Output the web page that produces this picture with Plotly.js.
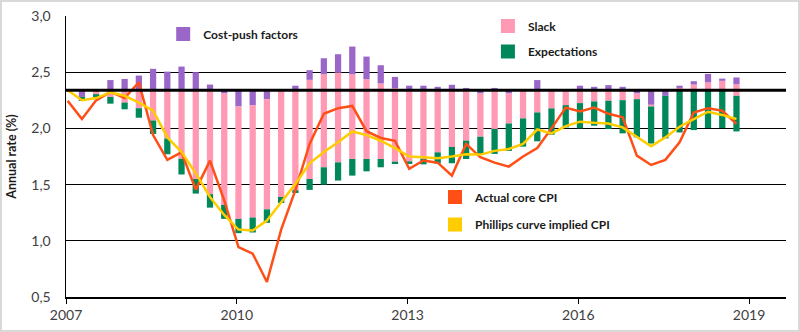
<!DOCTYPE html>
<html>
<head>
<meta charset="utf-8">
<script src="https://cdn.plot.ly/plotly-3.0.1.min.js"></script>
<style>
  html, body { margin: 0; padding: 0; background: #ffffff; }
  #wrap { position: relative; width: 800px; height: 332px; }
  #chart { width: 800px; height: 332px; }
  #frame { position: absolute; left: 0; top: 0; width: 800px; height: 332px; box-sizing: border-box;
           border: 2px solid #d9d9d9; pointer-events: none; }
</style>
</head>
<body>
<div id="wrap"><div id="chart"></div><div id="frame"></div></div>
<script>
// ---- Data (quarterly, 2007Q1 - 2018Q4) ----
const quarters = [
  '2007Q1','2007Q2','2007Q3','2007Q4','2008Q1','2008Q2','2008Q3','2008Q4',
  '2009Q1','2009Q2','2009Q3','2009Q4','2010Q1','2010Q2','2010Q3','2010Q4',
  '2011Q1','2011Q2','2011Q3','2011Q4','2012Q1','2012Q2','2012Q3','2012Q4',
  '2013Q1','2013Q2','2013Q3','2013Q4','2014Q1','2014Q2','2014Q3','2014Q4',
  '2015Q1','2015Q2','2015Q3','2015Q4','2016Q1','2016Q2','2016Q3','2016Q4',
  '2017Q1','2017Q2','2017Q3','2017Q4','2018Q1','2018Q2','2018Q3','2018Q4'
];

// Steady-state (target-consistent) inflation the contributions are measured from
const baseline = 2.34;

// Contributions (percentage points) relative to the baseline
const costPush = [
  0, -0.06, 0, 0.09, 0.10, 0.13, 0.19, 0.165,
  0.21, 0.16, 0.05, -0.03, -0.145, -0.133, -0.08, 0,
  0.04, 0.086, 0.142, 0.163, 0.246, 0.201, 0.162, 0.10,
  0.04, 0.04, 0.03, 0.048, 0.02, -0.03, 0.02, -0.03,
  0, 0.09, 0.01, 0, 0.04, 0.03, 0.045, 0.03,
  -0.03, -0.13, -0.05, 0.02, 0.03, 0.075, 0.02, 0.06
];
// Slack: part stacked above the baseline and part stacked below it
const slackAbove = [
  0, 0, 0, 0, 0, 0, 0, 0,
  0, 0, 0, 0, 0, 0, 0, 0,
  0, 0.092, 0.142, 0.157, 0.142, 0.098, 0.06, 0.018,
  0, 0, 0, 0, 0, 0, 0, 0,
  0, 0, 0, 0, 0, 0, 0, 0,
  0, 0, 0, 0.02, 0.05, 0.07, 0.083, 0.053
];
const slackBelow = [
  0, 0, -0.035, -0.06, -0.11, -0.16, -0.27, -0.43,
  -0.61, -0.79, -0.925, -0.99, -1.0, -1.0, -0.98, -0.95,
  -0.89, -0.79, -0.686, -0.642, -0.612, -0.612, -0.612, -0.636,
  -0.633, -0.61, -0.553, -0.505, -0.449, -0.384, -0.345, -0.266,
  -0.251, -0.198, -0.162, -0.133, -0.115, -0.10, -0.094, -0.089,
  -0.05, -0.015, 0, 0, 0, 0, 0, -0.05
];
const expectations = [
  0, -0.035, -0.03, -0.06, -0.06, -0.085, -0.12, -0.14,
  -0.14, -0.13, -0.12, -0.125, -0.127, -0.133, -0.12, -0.054,
  -0.025, -0.097, -0.154, -0.162, -0.148, -0.11, -0.074, -0.021,
  -0.023, -0.05, -0.10, -0.145, -0.163, -0.159, -0.222, -0.244,
  -0.251, -0.257, -0.234, -0.198, -0.225, -0.216, -0.252, -0.295,
  -0.34, -0.33, -0.379, -0.376, -0.355, -0.337, -0.337, -0.317
];

// Lines (annual rate, %)
const actualCoreCPI = [
  2.245, 2.083, 2.25, 2.325, 2.27, 2.41, 1.94, 1.72,
  1.787, 1.455, 1.713, 1.36, 0.944, 0.885, 0.634, 1.10,
  1.45, 1.862, 2.13, 2.18, 2.20, 1.975, 1.915, 1.89,
  1.64, 1.715, 1.695, 1.58, 1.862, 1.743, 1.695, 1.66,
  1.75, 1.825, 2.00, 2.185, 2.15, 2.186, 2.13, 2.098,
  1.758, 1.675, 1.72, 1.876, 2.142, 2.18, 2.157, 2.04
];
const phillipsImplied = [
  2.34, 2.25, 2.27, 2.32, 2.29, 2.23, 2.157, 1.92,
  1.79, 1.60, 1.39, 1.23, 1.10, 1.092, 1.18, 1.343,
  1.506, 1.69, 1.79, 1.876, 1.973, 1.94, 1.89, 1.825,
  1.75, 1.743, 1.734, 1.75, 1.77, 1.767, 1.80, 1.817,
  1.862, 1.99, 1.956, 2.02, 2.06, 2.05, 2.044, 2.009,
  1.926, 1.84, 1.92, 2.015, 2.083, 2.148, 2.12, 2.083
];

const yearTicks = [2007, 2010, 2013, 2016, 2019];

// ---- Styling ----
const COLORS = {
  slack: '#FF99B4', expectations: '#00875A', costPush: '#9A66C8',
  actual: '#FF4F17', phillips: '#FFCC00'
};
const FONT = 'Lato, "Open Sans", sans-serif';
const BAR_WIDTH = 0.11;
const CENTER = 0.03;

// quarter label -> decimal year position
const xs = quarters.map(q => {
  const y = parseInt(q.slice(0, 4), 10);
  const n = parseInt(q.slice(5), 10);
  return y + (n - 1) / 4 + CENTER;
});

// Stack contributions around the baseline: positives upward, negatives downward
const order = [
  { vals: slackAbove, color: COLORS.slack },
  { vals: costPush, color: COLORS.costPush },
  { vals: slackBelow, color: COLORS.slack },
  { vals: expectations, color: COLORS.expectations }
];
const upper = quarters.map(() => baseline);
const lower = quarters.map(() => baseline);
const barTraces = order.map(s => {
  const bases = s.vals.map((v, i) => {
    if (v >= 0) { const b = upper[i]; upper[i] += v; return b; }
    const b = lower[i]; lower[i] += v; return b;
  });
  return {
    type: 'bar', x: xs, y: s.vals, base: bases, width: BAR_WIDTH,
    marker: { color: s.color, line: { width: 0 } },
    showlegend: false, hoverinfo: 'skip'
  };
});

const lineTraces = [
  { type: 'scatter', mode: 'lines', x: xs, y: actualCoreCPI, name: 'Actual core CPI',
    line: { color: COLORS.actual, width: 2.5 }, showlegend: false },
  { type: 'scatter', mode: 'lines', x: xs, y: phillipsImplied, name: 'Phillips curve implied CPI',
    line: { color: COLORS.phillips, width: 2.5 }, showlegend: false }
];

// Legend entries (square swatches), each in its own legend box
const legendItems = [
  { name: 'Cost-push factors', color: COLORS.costPush, legend: 'legend' },
  { name: 'Slack', color: COLORS.slack, legend: 'legend2' },
  { name: 'Expectations', color: COLORS.expectations, legend: 'legend3' },
  { name: 'Actual core CPI', color: COLORS.actual, legend: 'legend4' },
  { name: 'Phillips curve implied CPI', color: COLORS.phillips, legend: 'legend5' }
];
const legendTraces = legendItems.map(it => ({
  type: 'scatter', mode: 'markers', x: [xs[0]], y: [null], name: it.name,
  marker: { color: it.color, symbol: 'square', size: 14, line: { width: 0 } },
  legend: it.legend, showlegend: true, hoverinfo: 'skip'
}));

const legendFont = { family: FONT, size: 12, color: '#1a1a1a', weight: 700 };
function legendBox(x, y) {
  return { x: x, y: y, xanchor: 'left', yanchor: 'middle', bgcolor: 'rgba(0,0,0,0)',
           borderwidth: 0, font: legendFont, orientation: 'v', itemsizing: 'trace' };
}

const layout = {
  width: 800, height: 332,
  margin: { l: 66, r: 14, t: 15, b: 35, pad: 0 },
  paper_bgcolor: '#ffffff', plot_bgcolor: '#ffffff',
  barmode: 'overlay',
  separators: ',.',
  font: { family: FONT, size: 14, color: '#404040' },
  xaxis: {
    range: [2007, 2019.65], tickmode: 'array', tickvals: yearTicks,
    ticktext: yearTicks.map(String),
    ticks: 'outside', ticklen: 5, tickcolor: '#000', tickwidth: 1,
    showline: true, linecolor: '#000', linewidth: 1.5,
    showgrid: false, zeroline: false,
    tickfont: { family: FONT, size: 14, color: '#404040' }
  },
  yaxis: {
    range: [0.5, 3.0], dtick: 0.5, tick0: 0.5, tickformat: '.1f',
    showgrid: true, gridcolor: '#000', gridwidth: 1.2,
    showline: true, linecolor: '#000', linewidth: 1.5,
    zeroline: false, ticks: '', ticklabelstandoff: 11,
    tickfont: { family: FONT, size: 14, color: '#404040' },
    title: { text: 'Annual rate (%)', standoff: 12,
             font: { family: FONT, size: 12.5, color: '#1a1a1a', weight: 700 } }
  },
  shapes: [
    { type: 'line', xref: 'paper', x0: 0, x1: 1, yref: 'y', y0: baseline, y1: baseline,
      line: { color: '#000', width: 3 }, layer: 'above' }
  ],
  legend: legendBox(0.135, 0.933),
  legend2: legendBox(0.586, 0.961),
  legend3: legendBox(0.586, 0.8706),
  legend4: legendBox(0.5125, 0.3546),
  legend5: legendBox(0.5125, 0.257)
};

Plotly.newPlot('chart', [...barTraces, ...lineTraces, ...legendTraces], layout,
  { displayModeBar: false, staticPlot: true });
</script>
</body>
</html>
